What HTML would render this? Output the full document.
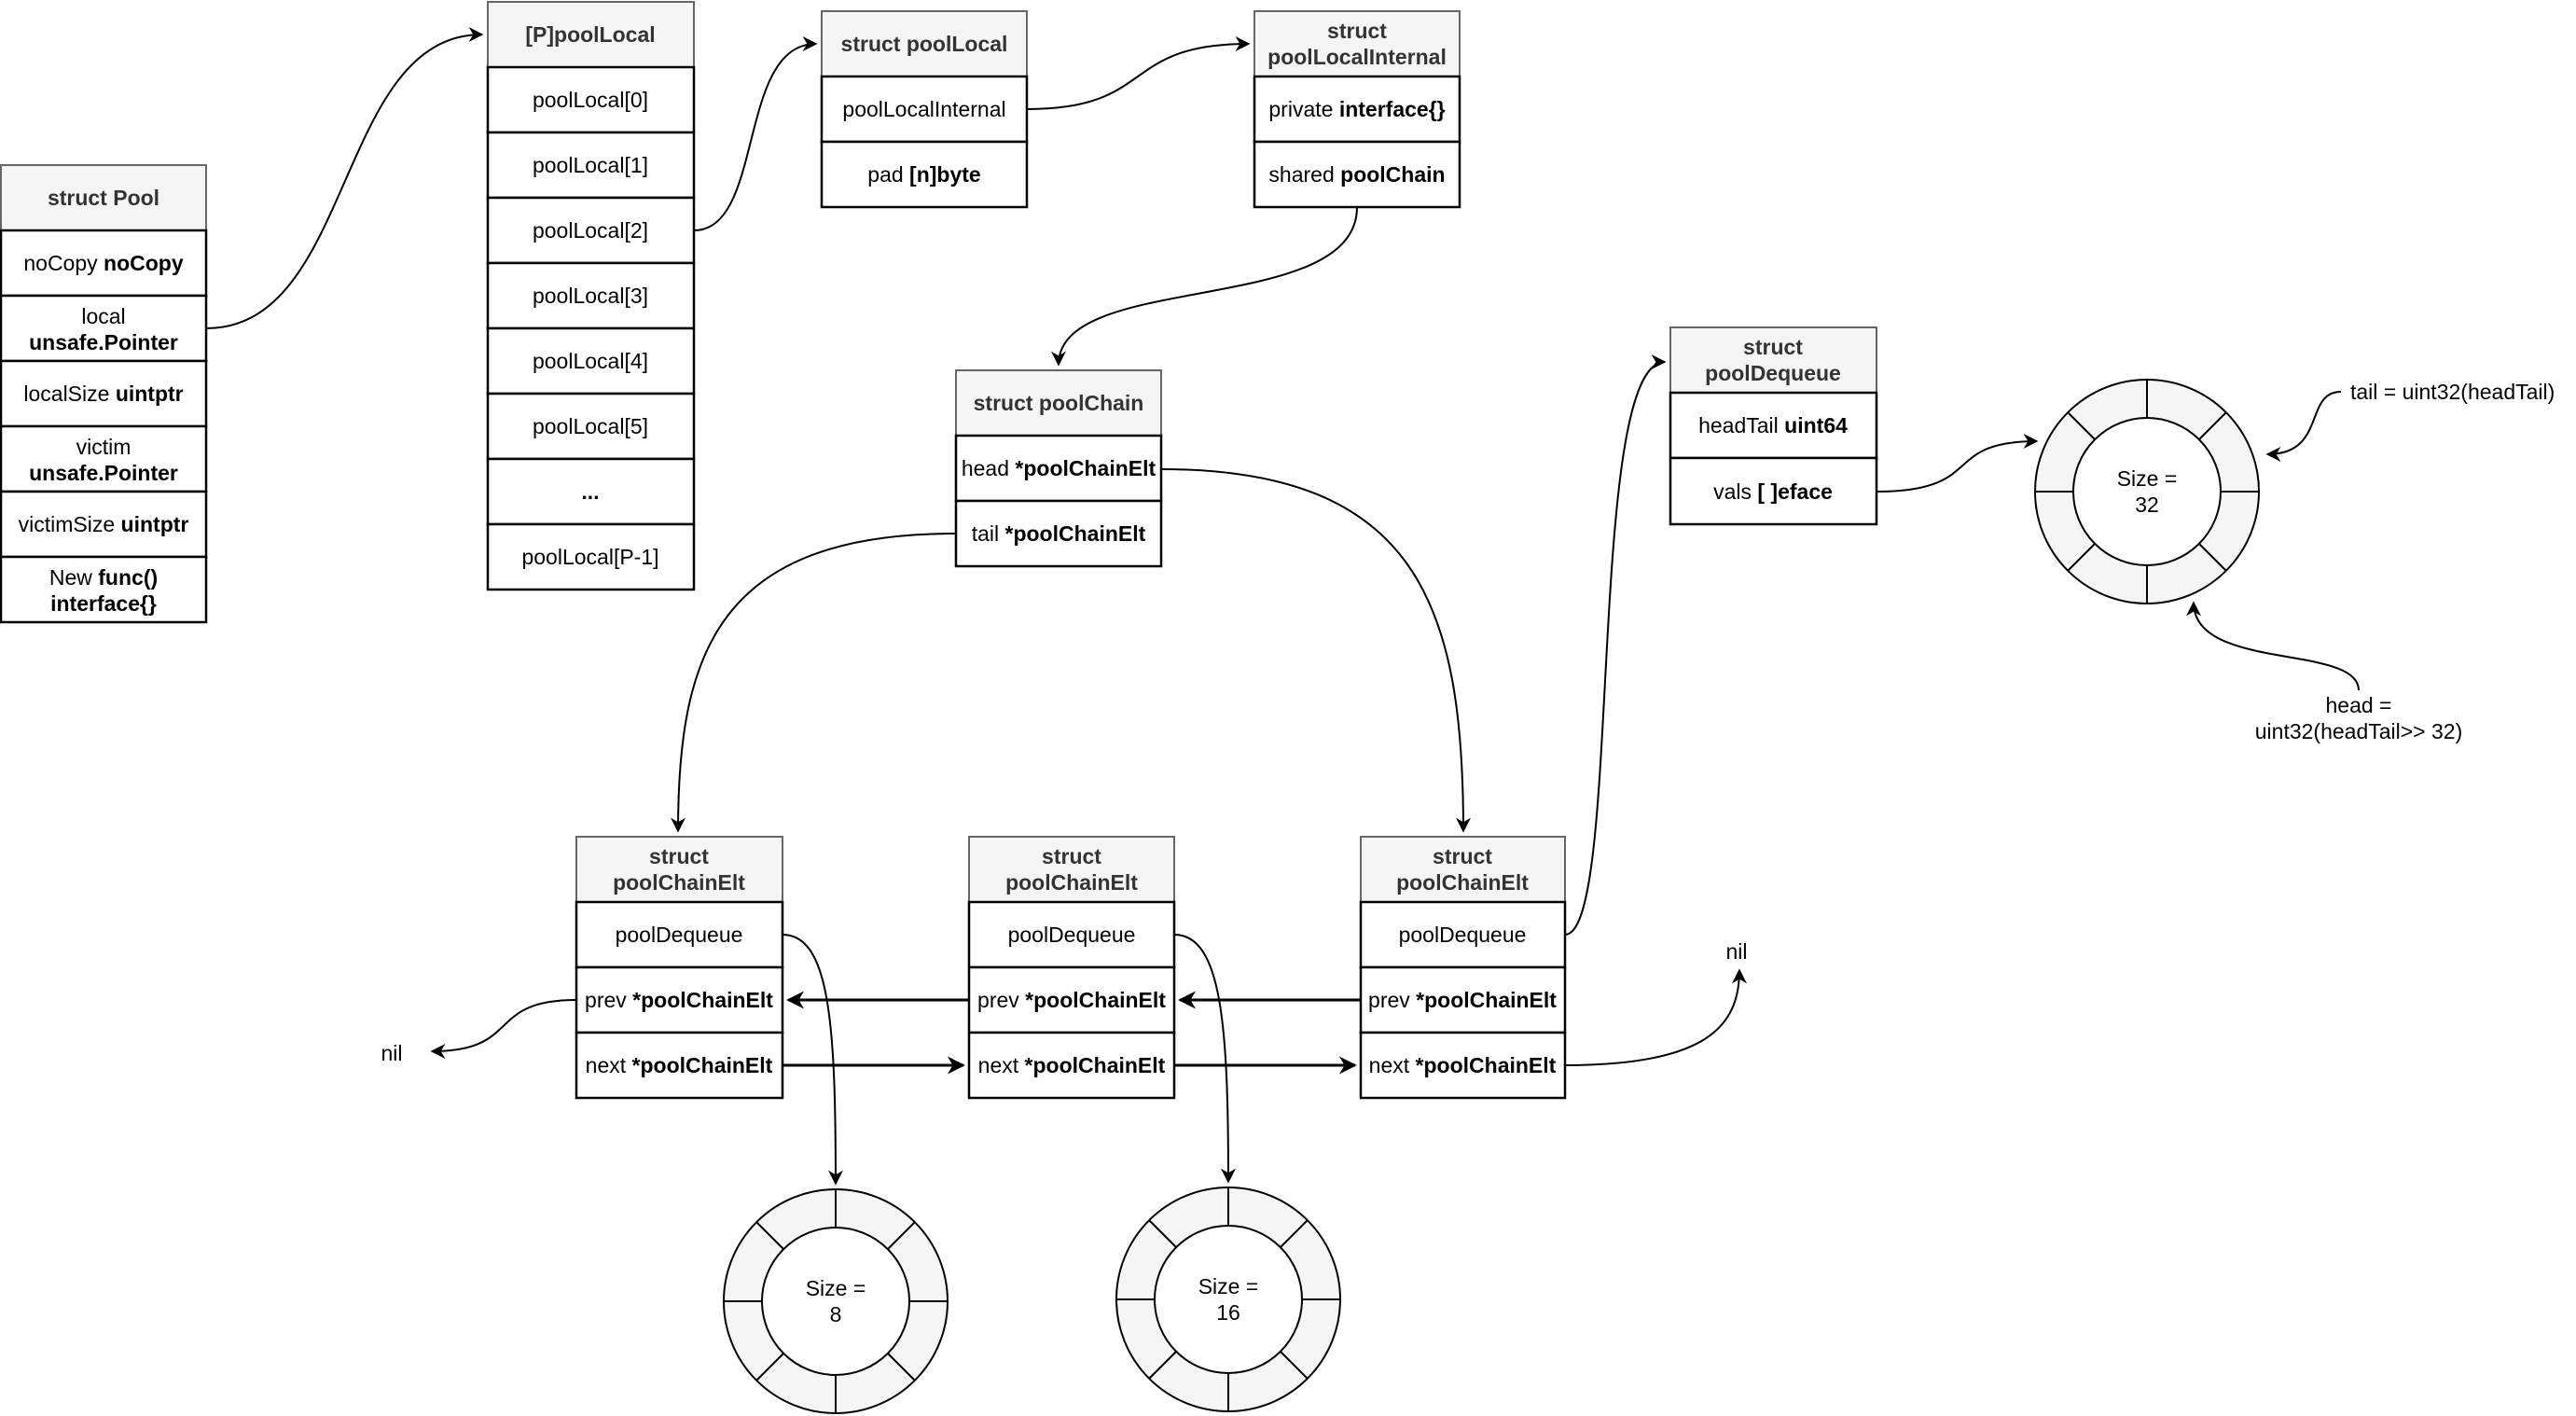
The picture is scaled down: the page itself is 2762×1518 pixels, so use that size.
<!DOCTYPE html>
<html><head><meta charset="utf-8"><style>
html,body{margin:0;padding:0;background:#fff;}
svg{display:block;font-family:"Liberation Sans",Helvetica,Arial,sans-serif;}
.h{fill:#f5f5f5;stroke:#666;stroke-width:2}
.r{fill:#fff;stroke:#000;stroke-width:2.5}
text{font-size:23px;fill:#000;text-anchor:middle;dominant-baseline:central}
.hb{font-weight:bold;fill:#333}
.b{font-weight:bold}
.c{fill:none;stroke:#000;stroke-width:2}
.t{fill:none;stroke:#000;stroke-width:3}
.ring{fill:#f5f5f5;stroke:#000;stroke-width:2}
.in{fill:#fff;stroke:#000;stroke-width:2}
.sl{stroke:#000;stroke-width:2}
</style></head><body>
<svg width="2762" height="1518" viewBox="0 0 2762 1518" xmlns="http://www.w3.org/2000/svg">
<defs>
<marker id="a" markerWidth="16" markerHeight="16" refX="9" refY="5" orient="auto" markerUnits="userSpaceOnUse" viewBox="0 0 10 10">
<path d="M0,0 L10,5 L0,10 L3,5 z" fill="#000"/></marker>
<marker id="a2" markerWidth="19" markerHeight="19" refX="9" refY="5" orient="auto" markerUnits="userSpaceOnUse" viewBox="0 0 10 10">
<path d="M0,0 L10,5 L0,10 L3,5 z" fill="#000"/></marker>
</defs>

<!-- struct Pool -->
<rect class="h" x="1" y="177" width="220" height="70"/>
<text class="hb" x="111" y="212">struct  Pool</text>
<rect class="r" x="1" y="247" width="220" height="70"/><text x="111" y="282">noCopy <tspan class="b">noCopy</tspan></text>
<rect class="r" x="1" y="317" width="220" height="70"/><text x="111" y="339">local</text><text class="b" x="111" y="367">unsafe.Pointer</text>
<rect class="r" x="1" y="387" width="220" height="70"/><text x="111" y="422">localSize <tspan class="b">uintptr</tspan></text>
<rect class="r" x="1" y="457" width="220" height="70"/><text x="111" y="479">victim</text><text class="b" x="111" y="507">unsafe.Pointer</text>
<rect class="r" x="1" y="527" width="220" height="70"/><text x="111" y="562">victimSize <tspan class="b">uintptr</tspan></text>
<rect class="r" x="1" y="597" width="220" height="70"/><text x="111" y="619">New <tspan class="b">func()</tspan></text><text class="b" x="111" y="647">interface{}</text>

<!-- [P]poolLocal -->
<rect class="h" x="523" y="2" width="221" height="70"/><text class="hb" x="633" y="37">[P]poolLocal</text>
<rect class="r" x="523" y="72" width="221" height="70"/><text x="633" y="107">poolLocal[0]</text>
<rect class="r" x="523" y="142" width="221" height="70"/><text x="633" y="177">poolLocal[1]</text>
<rect class="r" x="523" y="212" width="221" height="70"/><text x="633" y="247">poolLocal[2]</text>
<rect class="r" x="523" y="282" width="221" height="70"/><text x="633" y="317">poolLocal[3]</text>
<rect class="r" x="523" y="352" width="221" height="70"/><text x="633" y="387">poolLocal[4]</text>
<rect class="r" x="523" y="422" width="221" height="70"/><text x="633" y="457">poolLocal[5]</text>
<rect class="r" x="523" y="492" width="221" height="70"/><text class="b" x="633" y="527">...</text>
<rect class="r" x="523" y="562" width="221" height="70"/><text x="633" y="597">poolLocal[P-1]</text>

<!-- struct poolLocal -->
<rect class="h" x="881" y="12" width="220" height="70"/><text class="hb" x="991" y="47">struct poolLocal</text>
<rect class="r" x="881" y="82" width="220" height="70"/><text x="991" y="117">poolLocalInternal</text>
<rect class="r" x="881" y="152" width="220" height="70"/><text x="991" y="187">pad <tspan class="b">[n]byte</tspan></text>

<!-- poolLocalInternal -->
<rect class="h" x="1345" y="12" width="220" height="70"/><text class="hb" x="1455" y="33">struct</text><text class="hb" x="1455" y="61">poolLocalInternal</text>
<rect class="r" x="1345" y="82" width="220" height="70"/><text x="1455" y="117">private <tspan class="b">interface{}</tspan></text>
<rect class="r" x="1345" y="152" width="220" height="70"/><text x="1455" y="187">shared <tspan class="b">poolChain</tspan></text>

<!-- poolChain -->
<rect class="h" x="1025" y="397" width="220" height="70"/><text class="hb" x="1135" y="432">struct  poolChain</text>
<rect class="r" x="1025" y="467" width="220" height="70"/><text x="1135" y="502">head <tspan class="b">*poolChainElt</tspan></text>
<rect class="r" x="1025" y="537" width="220" height="70"/><text x="1135" y="572">tail <tspan class="b">*poolChainElt</tspan></text>

<!-- poolDequeue -->
<rect class="h" x="1791" y="351" width="221" height="70"/><text class="hb" x="1901" y="372">struct</text><text class="hb" x="1901" y="400">poolDequeue</text>
<rect class="r" x="1791" y="421" width="221" height="70"/><text x="1901" y="456">headTail <tspan class="b">uint64</tspan></text>
<rect class="r" x="1791" y="491" width="221" height="71"/><text x="1901" y="527">vals <tspan class="b">[ ]eface</tspan></text>

<!-- poolChainElt x3 -->
<g>
<rect class="h" x="618" y="897" width="221" height="70"/><text class="hb" x="728" y="918">struct</text><text class="hb" x="728" y="946">poolChainElt</text>
<rect class="r" x="618" y="967" width="221" height="70"/><text x="728" y="1002">poolDequeue</text>
<rect class="r" x="618" y="1037" width="221" height="70"/><text x="728" y="1072">prev <tspan class="b">*poolChainElt</tspan></text>
<rect class="r" x="618" y="1107" width="221" height="70"/><text x="728" y="1142">next <tspan class="b">*poolChainElt</tspan></text>
</g>
<g>
<rect class="h" x="1039" y="897" width="220" height="70"/><text class="hb" x="1149" y="918">struct</text><text class="hb" x="1149" y="946">poolChainElt</text>
<rect class="r" x="1039" y="967" width="220" height="70"/><text x="1149" y="1002">poolDequeue</text>
<rect class="r" x="1039" y="1037" width="220" height="70"/><text x="1149" y="1072">prev <tspan class="b">*poolChainElt</tspan></text>
<rect class="r" x="1039" y="1107" width="220" height="70"/><text x="1149" y="1142">next <tspan class="b">*poolChainElt</tspan></text>
</g>
<g>
<rect class="h" x="1459" y="897" width="219" height="70"/><text class="hb" x="1568" y="918">struct</text><text class="hb" x="1568" y="946">poolChainElt</text>
<rect class="r" x="1459" y="967" width="219" height="70"/><text x="1568" y="1002">poolDequeue</text>
<rect class="r" x="1459" y="1037" width="219" height="70"/><text x="1568" y="1072">prev <tspan class="b">*poolChainElt</tspan></text>
<rect class="r" x="1459" y="1107" width="219" height="70"/><text x="1568" y="1142">next <tspan class="b">*poolChainElt</tspan></text>
</g>

<!-- rings -->
<g transform="translate(896,1395)">
<circle class="ring" r="120"/><circle class="in" r="79"/>
<line class="sl" x1="0" y1="-79" x2="0" y2="-120"/><line class="sl" x1="0" y1="79" x2="0" y2="120"/>
<line class="sl" x1="-79" y1="0" x2="-120" y2="0"/><line class="sl" x1="79" y1="0" x2="120" y2="0"/>
<line class="sl" x1="56" y1="56" x2="85" y2="85"/><line class="sl" x1="-56" y1="56" x2="-85" y2="85"/>
<line class="sl" x1="56" y1="-56" x2="85" y2="-85"/><line class="sl" x1="-56" y1="-56" x2="-85" y2="-85"/>
<text x="0" y="-14">Size =</text><text x="0" y="14">8</text>
</g>
<g transform="translate(1317,1393)">
<circle class="ring" r="120"/><circle class="in" r="79"/>
<line class="sl" x1="0" y1="-79" x2="0" y2="-120"/><line class="sl" x1="0" y1="79" x2="0" y2="120"/>
<line class="sl" x1="-79" y1="0" x2="-120" y2="0"/><line class="sl" x1="79" y1="0" x2="120" y2="0"/>
<line class="sl" x1="56" y1="56" x2="85" y2="85"/><line class="sl" x1="-56" y1="56" x2="-85" y2="85"/>
<line class="sl" x1="56" y1="-56" x2="85" y2="-85"/><line class="sl" x1="-56" y1="-56" x2="-85" y2="-85"/>
<text x="0" y="-14">Size =</text><text x="0" y="14">16</text>
</g>
<g transform="translate(2302,527)">
<circle class="ring" r="120"/><circle class="in" r="79"/>
<line class="sl" x1="0" y1="-79" x2="0" y2="-120"/><line class="sl" x1="0" y1="79" x2="0" y2="120"/>
<line class="sl" x1="-79" y1="0" x2="-120" y2="0"/><line class="sl" x1="79" y1="0" x2="120" y2="0"/>
<line class="sl" x1="56" y1="56" x2="85" y2="85"/><line class="sl" x1="-56" y1="56" x2="-85" y2="85"/>
<line class="sl" x1="56" y1="-56" x2="85" y2="-85"/><line class="sl" x1="-56" y1="-56" x2="-85" y2="-85"/>
<text x="0" y="-14">Size =</text><text x="0" y="14">32</text>
</g>

<!-- labels -->
<text x="420" y="1129">nil</text>
<text x="1862" y="1020">nil</text>
<text x="2520" y="420" style="text-anchor:start">tail = uint32(headTail)</text>
<text x="2529" y="756">head =</text>
<text x="2529" y="784">uint32(headTail&gt;&gt; 32)</text>

<!-- connectors -->
<path class="c" d="M221,352 C380,352 360,37 517,37" marker-end="url(#a)"/>
<path class="c" d="M744,247 C820,247 790,47 875,47" marker-end="url(#a)"/>
<path class="c" d="M1101,117 C1240,117 1200,47 1339,47" marker-end="url(#a)"/>
<path class="c" d="M1455,222 C1455,340 1135,290 1135,391" marker-end="url(#a)"/>
<path class="c" d="M1025,572 C770,572 727,700 727,891" marker-end="url(#a)"/>
<path class="c" d="M1245,503 C1520,503 1569,650 1569,891" marker-end="url(#a)"/>
<path class="c" d="M1678,1002 C1740,1002 1700,388 1785,388" marker-end="url(#a)"/>
<path class="c" d="M839,1002 C890,1002 896,1100 896,1269" marker-end="url(#a)"/>
<path class="c" d="M1259,1002 C1310,1002 1317,1100 1317,1267" marker-end="url(#a)"/>
<path class="t" d="M1039,1072 L845,1072" marker-end="url(#a2)"/>
<path class="t" d="M1459,1072 L1265,1072" marker-end="url(#a2)"/>
<path class="t" d="M839,1142 L1033,1142" marker-end="url(#a2)"/>
<path class="t" d="M1259,1142 L1453,1142" marker-end="url(#a2)"/>
<path class="c" d="M618,1072 C520,1072 560,1127 463,1127" marker-end="url(#a)"/>
<path class="c" d="M1678,1142 C1830,1142 1865,1100 1865,1040" marker-end="url(#a)"/>
<path class="c" d="M2012,527 C2130,527 2080,473 2184,473" marker-end="url(#a)"/>
<path class="c" d="M2510,420 C2470,420 2495,487 2431,487" marker-end="url(#a)"/>
<path class="c" d="M2529,740 C2529,690 2352,720 2352,646" marker-end="url(#a)"/>
</svg>
</body></html>
